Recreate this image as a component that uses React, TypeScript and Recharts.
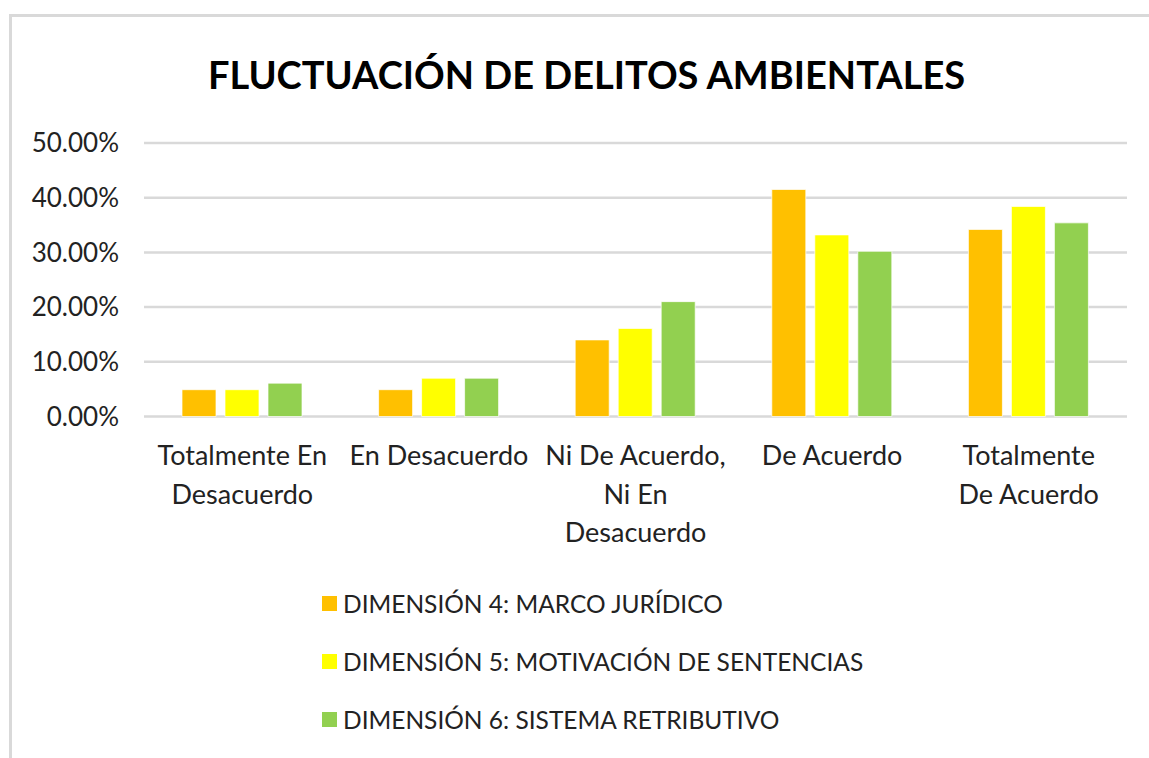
import React from "react";
import { BarChart, Bar, XAxis, YAxis, CartesianGrid } from "recharts";

const title = "FLUCTUACIÓN DE DELITOS AMBIENTALES";
const categories = [
  "Totalmente En Desacuerdo",
  "En Desacuerdo",
  "Ni De Acuerdo, Ni En Desacuerdo",
  "De Acuerdo",
  "Totalmente De Acuerdo",
];
const categoryLines = [
  ["Totalmente En", "Desacuerdo"],
  ["En Desacuerdo"],
  ["Ni De Acuerdo,", "Ni En", "Desacuerdo"],
  ["De Acuerdo"],
  ["Totalmente", "De Acuerdo"],
];
const dim4 = [0.049, 0.049, 0.14, 0.415, 0.342];
const dim5 = [0.049, 0.07, 0.161, 0.332, 0.384];
const dim6 = [0.061, 0.07, 0.21, 0.302, 0.354];
const seriesKeys = ["dim4", "dim5", "dim6"];
const seriesNames = [
  "DIMENSIÓN 4: MARCO JURÍDICO",
  "DIMENSIÓN 5: MOTIVACIÓN DE SENTENCIAS",
  "DIMENSIÓN 6: SISTEMA RETRIBUTIVO",
];
const seriesColors = ["#FFC000", "#FFFF00", "#92D050"];
const yTicks = [0, 0.1, 0.2, 0.3, 0.4, 0.5];

const data = categories.map((c, i) => ({
  name: c,
  dim4: dim4[i],
  dim5: dim5[i],
  dim6: dim6[i],
}));

const FONT = "Lato, 'Open Sans', sans-serif";
const TEXT = "#222222";

const CategoryTick = (props: any) => {
  const { x, y, payload } = props;
  const idx = categories.indexOf(payload.value);
  const lines = categoryLines[idx] || [payload.value];
  return (
    <g transform={`translate(${x},${y})`}>
      {lines.map((l, i) => (
        <text
          key={i}
          x={0}
          y={48.5 + i * 38.5}
          textAnchor="middle"
          fontFamily={FONT}
          fontSize={27}
          fill={TEXT}
        >
          {l}
        </text>
      ))}
    </g>
  );
};

export default function App() {
  return (
    <div
      style={{
        position: "fixed",
        left: 0,
        top: 0,
        width: 1149,
        height: 758,
        overflow: "hidden",
        background: "#ffffff",
      }}
    >
      <div
        style={{
          position: "absolute",
          left: 9,
          top: 14,
          width: 1300,
          height: 900,
          borderTop: "3px solid #d9d9d9",
          borderLeft: "3px solid #d9d9d9",
          boxSizing: "border-box",
        }}
      />
      <div
        style={{
          position: "absolute",
          left: 0,
          top: 55,
          width: 1173,
          textAlign: "center",
          fontFamily: FONT,
          fontWeight: 700,
          fontSize: 38,
          lineHeight: 1,
          color: "#000000",
          whiteSpace: "nowrap",
        }}
      >
        {title}
      </div>
      <div style={{ position: "absolute", left: 0, top: 0 }}>
        <BarChart
          width={1149}
          height={758}
          data={data}
          margin={{ top: 143, right: 22, bottom: 241.5, left: 0 }}
          barCategoryGap={38}
          barGap={9}
        >
          <CartesianGrid
            vertical={false}
            stroke="#d9d9d9"
            strokeWidth={2.5}
          />
          <XAxis
            dataKey="name"
            axisLine={false}
            tickLine={false}
            tickSize={0}
            tickMargin={0}
            height={100}
            interval={0}
            tick={<CategoryTick />}
          />
          <YAxis
            width={144}
            domain={[0, 0.5]}
            ticks={yTicks}
            axisLine={false}
            tickLine={false}
            tickSize={0}
            tickMargin={25}
            tickFormatter={(v: number) => (v * 100).toFixed(2) + "%"}
            tick={{ fontFamily: FONT, fontSize: 26, fill: TEXT }}
          />
          {seriesKeys.map((k, i) => (
            <Bar
              key={k}
              dataKey={k}
              name={seriesNames[i]}
              fill={seriesColors[i]}
              stroke="#ffffff"
              strokeOpacity={0.7}
              strokeWidth={1}
              isAnimationActive={false}
            />
          ))}
        </BarChart>
      </div>
      <div
        style={{
          position: "absolute",
          left: 322,
          top: 574,
          fontFamily: FONT,
          fontSize: 24.5,
          color: TEXT,
        }}
      >
        {seriesNames.map((n, i) => (
          <div
            key={n}
            style={{
              height: 58,
              display: "flex",
              alignItems: "center",
              whiteSpace: "nowrap",
            }}
          >
            <span
              style={{
                display: "inline-block",
                width: 15,
                height: 15,
                background: seriesColors[i],
                marginRight: 6,
              }}
            />
            <span>{n}</span>
          </div>
        ))}
      </div>
    </div>
  );
}
